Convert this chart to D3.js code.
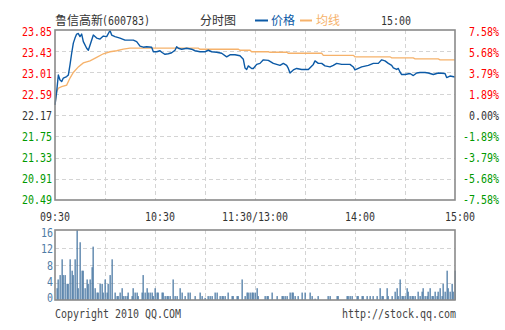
<!DOCTYPE html>
<html>
<head>
<meta charset="utf-8">
<script src="https://cdn.jsdelivr.net/npm/d3@7/dist/d3.min.js"></script>
<style>
  html, body { margin: 0; padding: 0; background: #fff; }
  svg { display: block; }
</style>
</head>
<body>
<svg id="chart" width="505" height="330"></svg>
<script>
// ---- intraday data: 鲁信高新 (600783) ----
const stockName = "鲁信高新";
const stockCode = "(600783)";
const lastTime = "15:00";

// price line: minute index since 09:30 (trading minutes) and price
const priceMinutes = [0,1,2,3,4,5,7,8,9,10,11,12,13,14,15,16,17,19,20,21,23,25,27,29,31,33,34,36,39,42,45,47,49,51,53,55,58,59,61,63,64,66,68,70,72,73,74,76,79,82,84,87,90,92,94,97,100,103,105,108,111,113,114,115,116,118,119,121,123,125,128,131,133,135,137,139,140,141,143,145,148,152,155,156,158,160,162,165,167,169,172,177,179,180,182,184,188,191,194,196,198,200,202,203,205,206,207,208,210,213,215,217,219,222,224,227,230,234,235,237,240];
const prices = [22.37,22.63,22.96,22.86,22.83,22.90,22.93,22.96,23.16,23.39,23.59,23.69,23.77,23.78,23.72,23.77,23.62,23.49,23.45,23.55,23.75,23.69,23.67,23.73,23.72,23.84,23.75,23.72,23.69,23.65,23.65,23.65,23.62,23.53,23.51,23.52,23.51,23.42,23.42,23.44,23.41,23.37,23.38,23.40,23.45,23.52,23.49,23.47,23.49,23.47,23.44,23.42,23.42,23.45,23.42,23.41,23.39,23.32,23.36,23.36,23.34,23.27,23.10,23.07,23.14,23.09,23.09,23.17,23.19,23.26,23.25,23.19,23.17,23.15,23.19,23.15,23.09,23.00,23.06,23.09,23.07,23.07,23.17,23.24,23.19,23.19,23.14,23.12,23.15,23.19,23.17,23.17,23.12,23.06,23.09,23.12,23.15,23.19,23.19,23.26,23.24,23.19,23.15,23.10,23.07,23.09,23.02,22.97,22.97,22.99,22.95,23.00,23.01,23.01,23.00,22.97,23.00,22.99,22.91,22.94,22.92];

// average price line
const avgMinutes = [0,1,2,4,7,9,11,14,17,21,25,29,33,37,41,45,86,87,110,111,117,118,128,129,139,140,160,161,179,180,201,202,215,216,230,231,240];
const avgPrices = [22.37,22.63,22.70,22.73,22.76,22.90,23.01,23.12,23.20,23.24,23.31,23.38,23.42,23.44,23.47,23.49,23.49,23.47,23.47,23.45,23.45,23.42,23.42,23.41,23.41,23.39,23.39,23.35,23.35,23.32,23.32,23.30,23.30,23.28,23.28,23.26,23.26];

// volume bars
const volMinutes = [1,2,3,4,5,6,7,8,9,10,11,12,13,14,15,16,17,18,19,20,21,22,23,24,25,26,27,28,29,30,31,32,33,34,36,37,38,39,40,41,42,43,44,46,47,48,49,50,52,53,54,55,56,57,58,59,60,61,62,64,65,66,67,68,69,71,72,73,75,76,78,80,81,84,87,88,90,92,93,94,96,97,99,100,101,102,104,106,107,109,110,112,114,115,116,117,118,119,120,121,122,126,127,128,130,133,136,137,138,139,141,142,143,144,146,148,150,153,154,156,158,164,165,169,170,175,176,177,178,181,182,184,185,187,189,191,193,195,196,197,199,200,202,204,205,206,207,208,209,210,211,212,213,214,215,216,218,219,220,221,222,223,224,225,226,227,228,229,230,231,232,233,234,235,236,237,238,239,240];
const volumes = [2.7,4.7,5.7,9.3,5.7,5.7,3.7,3.7,9.3,6.7,5.7,9.3,16,2.7,13.2,6.7,6.7,2.7,4.7,3.7,4.7,7.5,12.2,2.7,1.7,1.7,3.7,3.7,1.7,4.7,1.7,3.7,5.7,9.3,1.7,0.9,0.9,1.7,2.7,0.9,0.9,0.9,1.7,0.9,2.7,1.7,1.7,0.9,1.7,5.7,1.7,2.7,1.7,1.7,1.7,0.9,2.7,1.7,1.7,1.7,1.7,0.9,0.9,0.9,0.9,4.7,0.9,0.9,2.7,1.7,0.9,1.7,1.7,0.9,1.7,0.9,0.5,0.9,0.9,0.9,1.7,1.7,0.9,0.9,0.9,0.9,1.7,0.9,0.9,0.9,0.9,4.7,0.9,1.7,1.7,1.7,1.7,1.7,1.7,2.7,0.9,0.9,0.9,0.9,1.7,0.9,0.9,0.9,0.9,0.9,1.7,1.7,1.7,0.9,0.9,1.7,1.7,1.7,0.9,0.3,0.9,0.9,0.9,0.9,0.9,0.9,0.9,0.9,0.9,0.9,0.9,0.9,0.9,0.9,0.9,0.9,0.9,2.7,0.9,0.9,2.7,0.9,0.9,1.9,2.7,0.9,4.7,0.9,0.9,0.9,2.7,1.9,0.9,0.9,0.9,0.9,1.9,0.9,1.9,2.7,0.9,0.9,1.9,2.7,0.9,0.9,1.9,0.9,1.9,2.7,0.9,3.7,1.9,6.7,2.7,1.9,3.7,1.9,6.7];

// axis labels
const priceTicks = [23.85,23.43,23.01,22.59,22.17,21.75,21.33,20.91,20.49];
const pctTicks = ["7.58%","5.68%","3.79%","1.89%","0.00%","-1.89%","-3.79%","-5.68%","-7.58%"];
const prevClose = 22.17;
const timeTickMinutes = [0,60,120,180,240];
const timeTickLabels = ["09:30","10:30","11:30/13:00","14:00","15:00"];
const gridMinutes = [30,60,90,120,150,180,210];
const volTicks = [16,12,8,4,0];

// ---- layout ----
const svg = d3.select("#chart");
const left = 55, right = 455;
const mainTop = 30, mainBottom = 200;
const volTop = 230, volBottom = 300;

const C = {
  up: "#ff0000", down: "#009900", flat: "#333333",
  price: "#0c5aa6", avg: "#f6b26b", vol: "#4f7ca6", volText: "#4f7ca6",
  grid: "#d4d4d4", border: "#8a8a8a", text: "#333333"
};
const monoFont = "'DejaVu Sans Mono', 'Liberation Mono', monospace";
const cjkFont = "'Noto Sans CJK SC', 'Noto Sans', sans-serif";

const x = d3.scaleLinear().domain([0, 240]).range([left, right]);
const y = d3.scaleLinear().domain([priceTicks[priceTicks.length - 1], priceTicks[0]]).range([mainBottom, mainTop]);
const yv = d3.scaleLinear().domain([0, 16]).range([volBottom, volTop]);

// monospaced label helper: compress glyphs to a 6px cell
function mono(sel, size) {
  return sel.attr("font-family", monoFont)
    .attr("font-size", size || 11.5)
    .attr("textLength", d => String(typeof d === "object" ? d.t : d).length * 6)
    .attr("lengthAdjust", "spacingAndGlyphs");
}

// ---- header ----
const head = svg.append("g");
head.append("text").attr("x", left).attr("y", 24.5)
  .attr("font-family", cjkFont).attr("font-size", 12).attr("fill", C.text)
  .text(stockName);
head.append("text").datum(stockCode).attr("x", 102).attr("y", 24.5)
  .call(s => mono(s, 11.5)).attr("fill", C.text).text(stockCode);
head.append("text").attr("x", 200).attr("y", 24.5)
  .attr("font-family", cjkFont).attr("font-size", 12).attr("fill", C.text)
  .text("分时图");
head.append("line").attr("x1", 255).attr("x2", 268).attr("y1", 20.5).attr("y2", 20.5)
  .attr("stroke", C.price).attr("stroke-width", 2);
head.append("text").attr("x", 271).attr("y", 24.5)
  .attr("font-family", cjkFont).attr("font-size", 12).attr("fill", C.price)
  .text("价格");
head.append("line").attr("x1", 300).attr("x2", 312).attr("y1", 20.5).attr("y2", 20.5)
  .attr("stroke", C.avg).attr("stroke-width", 2);
head.append("text").attr("x", 316).attr("y", 24.5)
  .attr("font-family", cjkFont).attr("font-size", 12).attr("fill", C.avg)
  .text("均线");
head.append("text").datum(lastTime).attr("x", 381).attr("y", 24.5)
  .call(s => mono(s, 11.5)).attr("fill", C.text).text(lastTime);

// ---- grids ----
const grid = svg.append("g").attr("stroke", C.grid).attr("stroke-width", 1)
  .attr("stroke-dasharray", "4,3").attr("shape-rendering", "crispEdges");
grid.selectAll(".hg").data(priceTicks.slice(1, -1)).join("line")
  .attr("x1", left).attr("x2", right)
  .attr("y1", d => Math.round(y(d)) + 0.5).attr("y2", d => Math.round(y(d)) + 0.5);
grid.selectAll(".vg").data(gridMinutes).join("line")
  .attr("x1", d => Math.round(x(d)) + 0.5).attr("x2", d => Math.round(x(d)) + 0.5)
  .attr("y1", mainTop).attr("y2", mainBottom);
const vgrid = svg.append("g").attr("stroke", C.grid).attr("stroke-width", 1)
  .attr("stroke-dasharray", "4,3").attr("shape-rendering", "crispEdges");
vgrid.selectAll("line.h").data(volTicks.slice(1, -1)).join("line")
  .attr("x1", left).attr("x2", right)
  .attr("y1", d => Math.round(yv(d)) + 0.5).attr("y2", d => Math.round(yv(d)) + 0.5);
vgrid.selectAll("line.v").data(gridMinutes).join("line")
  .attr("x1", d => Math.round(x(d)) + 0.5).attr("x2", d => Math.round(x(d)) + 0.5)
  .attr("y1", volTop).attr("y2", volBottom);

// ---- price axis labels ----
const colorFor = v => v > prevClose + 1e-9 ? C.up : (v < prevClose - 1e-9 ? C.down : C.flat);
const n = priceTicks.length - 1;
svg.append("g").selectAll("text").data(priceTicks).join("text")
  .attr("x", 52).attr("text-anchor", "end")
  .attr("y", (d, i) => y(d) + 2 - 2 * i / n)
  .attr("dy", "0.35em").attr("fill", d => colorFor(d))
  .call(s => mono(s)).text(d => d.toFixed(2));
svg.append("g").selectAll("text").data(pctTicks).join("text")
  .attr("x", 499).attr("text-anchor", "end")
  .attr("y", (d, i) => y(priceTicks[i]) + 2 - 2 * i / n)
  .attr("dy", "0.35em").attr("fill", (d, i) => colorFor(priceTicks[i]))
  .call(s => mono(s)).text(d => d);

// ---- time labels ----
svg.append("g").selectAll("text").data(timeTickMinutes).join("text")
  .attr("x", (d, i) => x(d) + (i === 0 || i === 2 ? 0 : 5))
  .attr("y", 217).attr("dy", "0.35em").attr("text-anchor", "middle")
  .attr("fill", C.text)
  .datum((d, i) => timeTickLabels[i])
  .call(s => mono(s)).text(d => d);

// ---- lines ----
const avgLine = d3.line().x(d => x(d[0])).y(d => y(d[1]));
svg.append("path")
  .datum(avgMinutes.map((m, i) => [m, avgPrices[i]]))
  .attr("d", avgLine).attr("fill", "none")
  .attr("stroke", C.avg).attr("stroke-width", 1.3);
svg.append("path")
  .datum(priceMinutes.map((m, i) => [m, prices[i]]))
  .attr("d", avgLine).attr("fill", "none")
  .attr("stroke", C.price).attr("stroke-width", 1.4).attr("stroke-linejoin", "round");

// ---- volume ----
svg.append("g").selectAll("rect").data(volMinutes.map((m, i) => [m, volumes[i]])).join("rect")
  .attr("x", d => Math.round(x(d[0])) - 0.5).attr("width", 1.3)
  .attr("y", d => yv(d[1])).attr("height", d => yv(0) - yv(d[1]))
  .attr("fill", C.vol);
svg.append("g").selectAll("text").data(volTicks).join("text")
  .attr("x", 53).attr("text-anchor", "end")
  .attr("y", d => yv(d) + 3 - 5 * (16 - d) / 16).attr("dy", "0.35em")
  .attr("fill", C.volText)
  .datum(d => String(d))
  .call(s => mono(s)).text(d => d);

// ---- frames ----
svg.append("rect").attr("x", left).attr("y", mainTop)
  .attr("width", right - left).attr("height", mainBottom - mainTop)
  .attr("fill", "none").attr("stroke", C.border).attr("stroke-width", 1.6);
svg.append("rect").attr("x", left).attr("y", volTop)
  .attr("width", right - left).attr("height", volBottom - volTop)
  .attr("fill", "none").attr("stroke", C.border).attr("stroke-width", 1.6);

// ---- footer ----
svg.append("text").datum("Copyright 2010 QQ.COM").attr("x", left).attr("y", 318)
  .attr("fill", "#444").call(s => mono(s)).text(d => d);
svg.append("text").datum("http://stock.qq.com").attr("x", 456).attr("y", 318)
  .attr("text-anchor", "end").attr("fill", "#444").call(s => mono(s)).text(d => d);
</script>
</body>
</html>
